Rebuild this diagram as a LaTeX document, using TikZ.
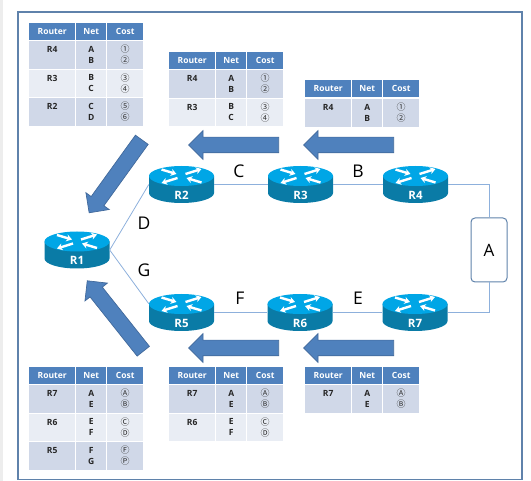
\documentclass[tikz,border=0pt]{standalone}
\usepackage{fontspec}
\setmainfont{Open Sans}
\newfontfamily\circfont{Noto Sans CJK KR}
\usetikzlibrary{arrows.meta,shapes.arrows}
\definecolor{framecol}{HTML}{5F82AB}
\definecolor{headcol}{HTML}{4F81BD}
\definecolor{rowdark}{HTML}{D0D8E8}
\definecolor{rowlight}{HTML}{E9EDF4}
\definecolor{linkcol}{HTML}{8DB0DC}
\definecolor{arrowedge}{HTML}{41699B}
\definecolor{routertop}{HTML}{00A6E6}
\definecolor{routerside}{HTML}{0A7BA6}
\tikzset{
  headcell/.style={anchor=north west, fill=headcol, text=white, inner sep=0pt, minimum height=17pt,
    font=\fontsize{8.5}{9}\selectfont\bfseries},
  cell/.style={anchor=north west, inner sep=0pt, align=center, text=black!85,
    font=\fontsize{8.5}{11}\selectfont\bfseries},
  costcell/.style={cell, text=black!80, font=\fontsize{9}{11}\selectfont\circfont},
  netletter/.style={font=\fontsize{17.5}{19}\selectfont, inner sep=0pt},
  bigarrow/.style={single arrow, anchor=tail, fill=headcol, draw=arrowedge, line width=0.7pt,
    inner xsep=0pt, inner ysep=7.5pt,
    minimum height=90pt, minimum width=28pt, single arrow head extend=6.5pt},
  link/.style={draw=linkcol, line width=0.8pt},
  routertext/.style={text=white, inner sep=0pt, yshift=-10.5pt, font=\fontsize{11.5}{12}\selectfont\bfseries},
  router/.style={minimum width=65pt, minimum height=38pt, inner sep=0pt,
    path picture={
      \begin{scope}[shift={(path picture bounding box.center)}]
        \fill [routerside] (-32.5,-8.5) -- (-32.5,8.5) arc [start angle=180, end angle=360, x radius=32.5pt, y radius=10pt] -- (32.5,-8.5) -- cycle;
        \fill [routertop] (0,-8.5) ellipse [x radius=32.5pt, y radius=10pt];
        \begin{scope}[white, line width=2.4pt, -{Stealth[length=5.5pt,width=7pt]}]
          \draw (-20,-15) -- (-5,-10.5);
          \draw (20,-2) -- (5,-6.5);
          \draw (4,-10.5) -- (20,-15.5);
          \draw (-4,-6.5) -- (-20,-1.5);
        \end{scope}
      \end{scope}
    }},
}
\newcommand{\nethead}[3]{
  \node (#1-router) [headcell, minimum width=46pt] at (#2,#3) {Router};
  \node (#1-net) [headcell, minimum width=30pt] at (#2+47,#3) {Net};
  \node (#1-cost) [headcell, minimum width=36pt] at (#2+78,#3) {Cost};
}
\newcommand{\netrow}[7]{
  \node (#1-router) [cell, fill=#4, minimum width=46pt, minimum height=27.5pt] at (#2,#3) {#5\\~};
  \node (#1-net) [cell, fill=#4, minimum width=30pt, minimum height=27.5pt] at (#2+47,#3) {#6};
  \node (#1-cost) [costcell, fill=#4, minimum width=36pt, minimum height=27.5pt] at (#2+78,#3) {#7};
}
\begin{document}
\begin{tikzpicture}[x=1pt,y=-1pt]
   \useasboundingbox (0,0) rectangle (531,481);
   \fill [black!7] (0,0) rectangle (2.5,481);
   \draw [framecol, line width=1.2pt] (18,12) rectangle (522,479.5);

   \nethead{topA}{29}{23}
   \netrow{topA-1}{29}{41}{rowdark}{R4}{A\\B}{①\\②}
   \netrow{topA-2}{29}{69.5}{rowlight}{R3}{B\\C}{③\\④}
   \netrow{topA-3}{29}{98}{rowdark}{R2}{C\\D}{⑤\\⑥}

   \nethead{topB}{169}{52}
   \netrow{topB-1}{169}{70}{rowdark}{R4}{A\\B}{①\\②}
   \netrow{topB-2}{169}{98.5}{rowlight}{R3}{B\\C}{③\\④}

   \nethead{topC}{305}{80}
   \netrow{topC-1}{305}{99}{rowdark}{R4}{A\\B}{①\\②}

   \nethead{botA}{29}{367}
   \netrow{botA-1}{29}{385}{rowdark}{R7}{A\\E}{Ⓐ\\Ⓑ}
   \netrow{botA-2}{29}{413.5}{rowlight}{R6}{E\\F}{Ⓒ\\Ⓓ}
   \netrow{botA-3}{29}{442}{rowdark}{R5}{F\\G}{Ⓕ\\Ⓟ}

   \nethead{botB}{169}{367}
   \netrow{botB-1}{169}{385}{rowdark}{R7}{A\\E}{Ⓐ\\Ⓑ}
   \netrow{botB-2}{169}{413.5}{rowlight}{R6}{E\\F}{Ⓒ\\Ⓓ}

   \nethead{botC}{305}{367}
   \netrow{botC-1}{305}{385}{rowdark}{R7}{A\\E}{Ⓐ\\Ⓑ}

   \node (R1) [router, label={[routertext]center:R1}] at (77,250) {};
   \node (R2) [router, label={[routertext]center:R2}] at (181.5,184.5) {};
   \node (R3) [router, label={[routertext]center:R3}] at (300.5,184.5) {};
   \node (R4) [router, label={[routertext]center:R4}] at (415.5,184.5) {};
   \node (R5) [router, label={[routertext]center:R5}] at (181.5,312.5) {};
   \node (R6) [router, label={[routertext]center:R6}] at (300,312.5) {};
   \node (R7) [router, label={[routertext]center:R7}] at (415,312.5) {};
   \node (A) [draw=framecol, line width=1pt, rounded corners=4pt, minimum width=36pt, minimum height=64pt,
      inner sep=0pt, font=\fontsize{17}{19}\selectfont] at (489,250) {A};

   \draw [link] (R1.east) -- (R2.west);
   \draw [link] (R1.east) -- (R5.165);
   \draw [link] (R2.east) -- (R3.west);
   \draw [link] (R3.east) -- (R4.west);
   \draw [link] (R5.east) -- (R6.west);
   \draw [link] (R6.east) -- (R7.west);
   \draw [link] (R4.east) -| (A.north);
   \draw [link] (A.south) |- (R7.east);

   \node (net-C) [netletter] at (239,171) {C};
   \node (net-B) [netletter] at (358,171) {B};
   \node (net-D) [netletter] at (144,223) {D};
   \node (net-G) [netletter] at (144,270) {G};
   \node (net-F) [netletter] at (240,298) {F};
   \node (net-E) [netletter] at (358,298) {E};

   \node (sendC) [bigarrow, rotate=180] at (394,145) {};
   \node (sendB) [bigarrow, rotate=180] at (279,145) {};
   \node (sendA) [bigarrow, rotate=234.2] at (142,139.5) {};
   \node (sendF) [bigarrow, rotate=180] at (394,348) {};
   \node (sendE) [bigarrow, rotate=180] at (279,348) {};
   \node (sendD) [bigarrow, rotate=128.5] at (143.5,351.5) {};
\end{tikzpicture}
\end{document}
